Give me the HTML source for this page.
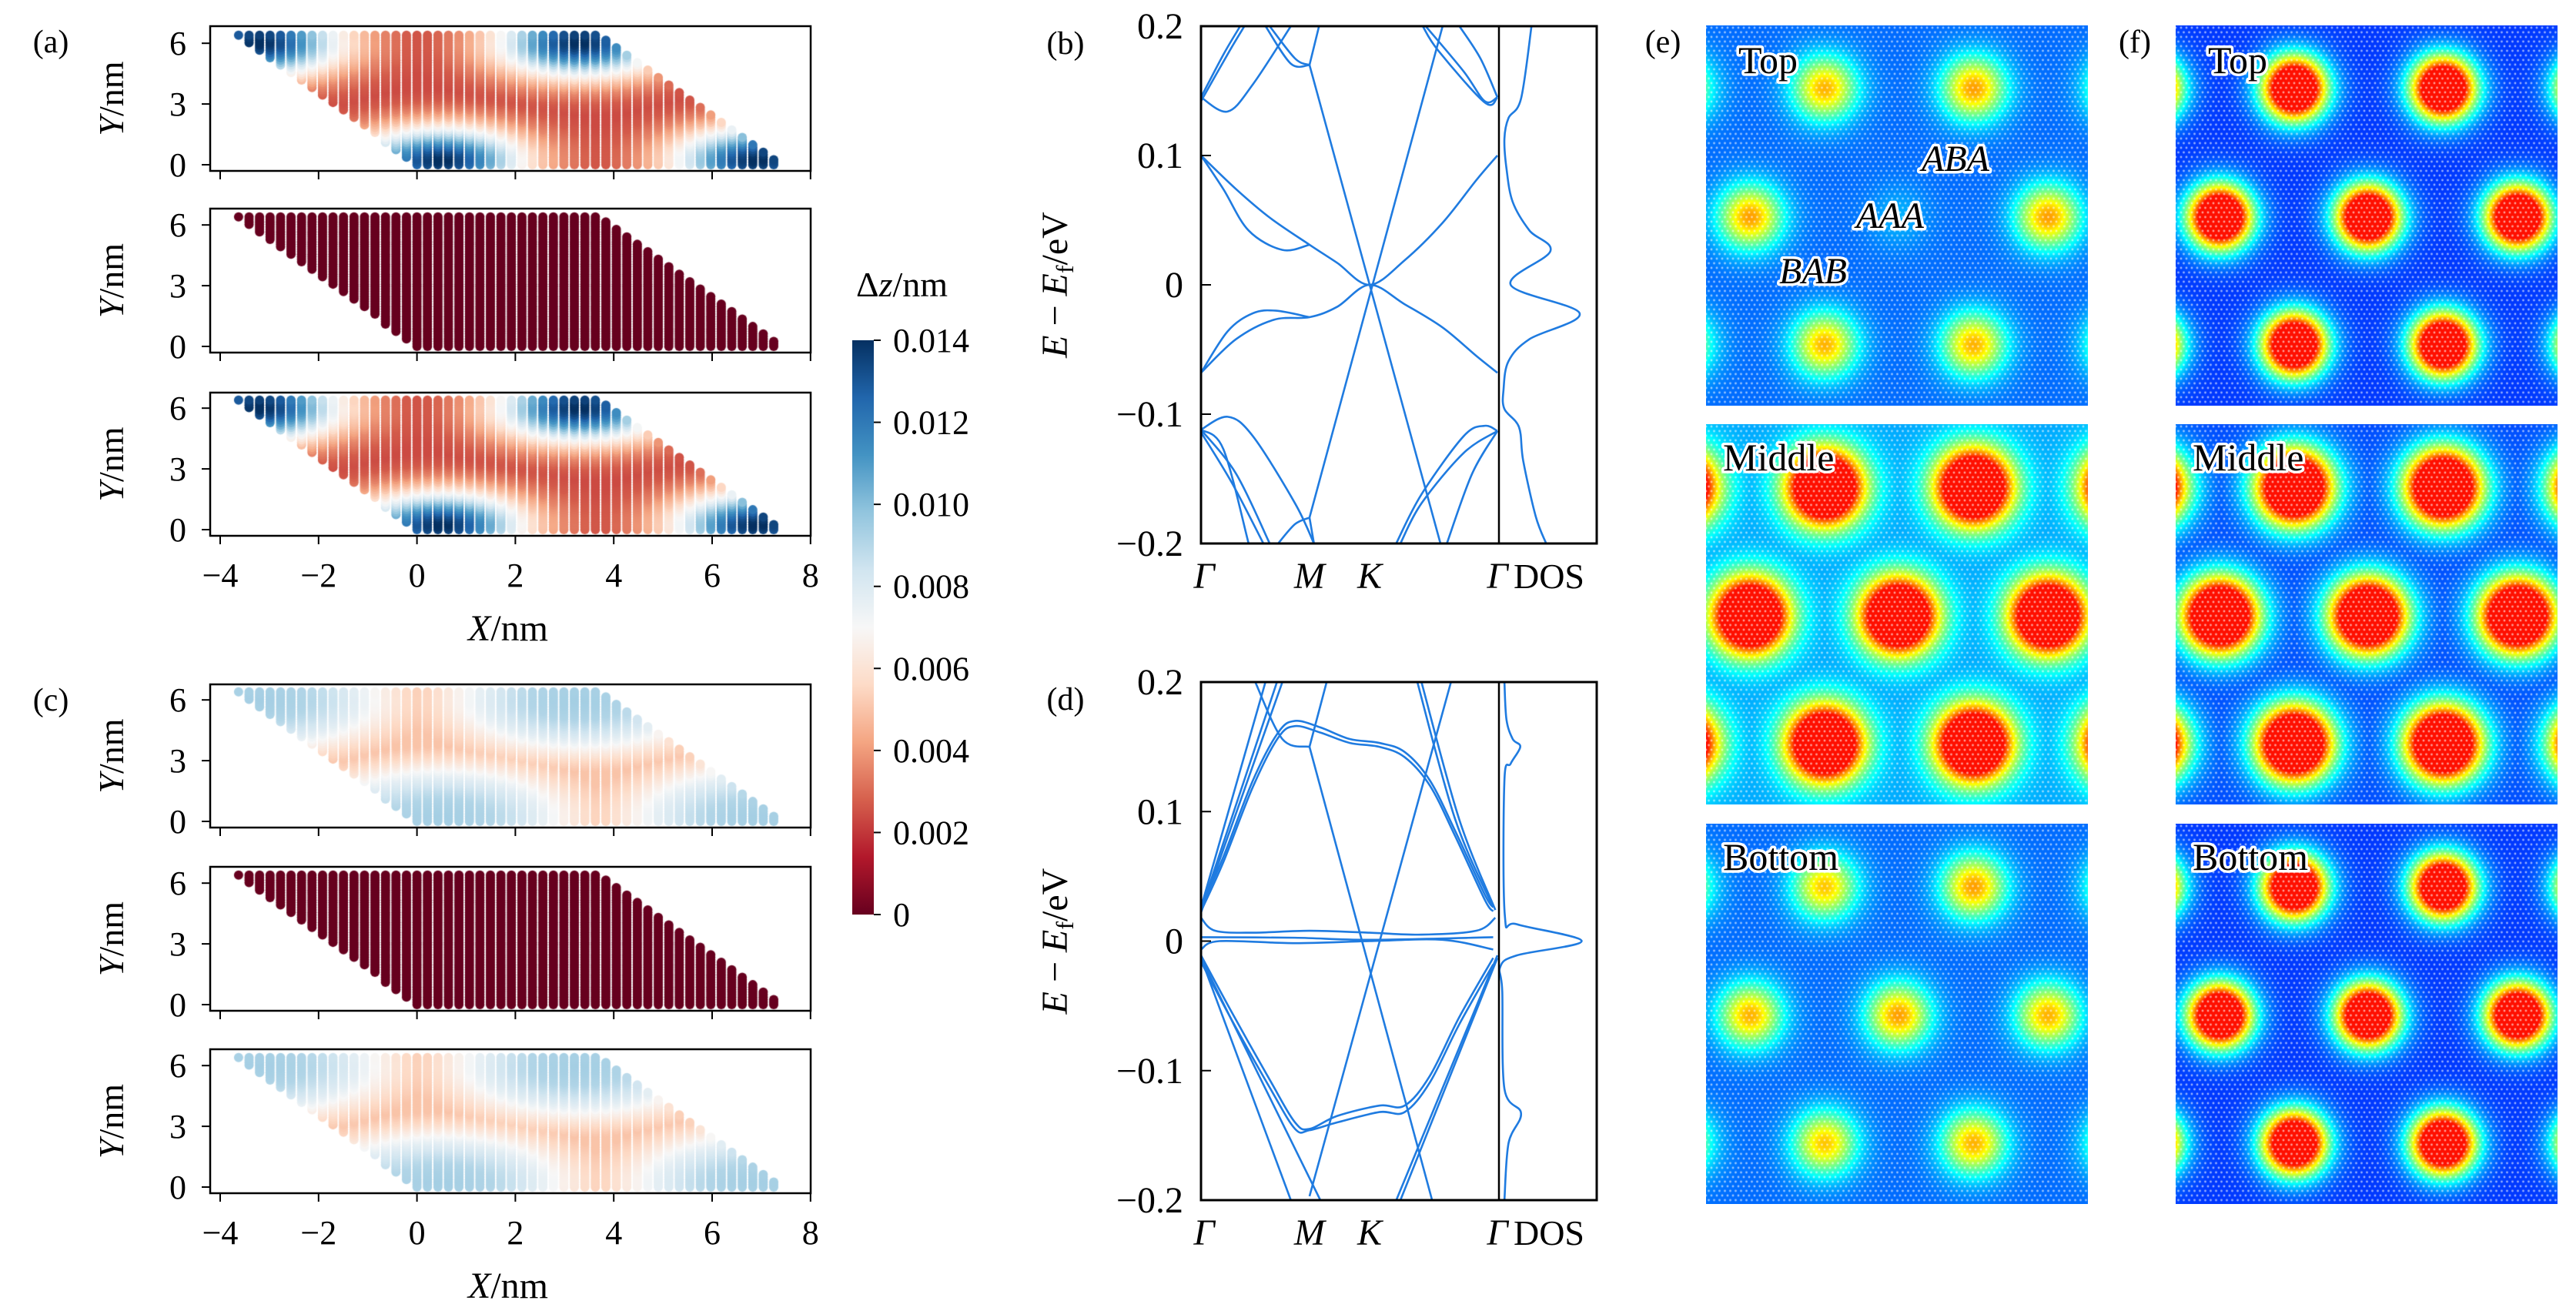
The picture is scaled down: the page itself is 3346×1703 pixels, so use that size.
<!DOCTYPE html>
<html><head><meta charset="utf-8">
<style>
body{margin:0;width:3346px;height:1703px;background:#fff;position:relative;overflow:hidden;font-family:"Liberation Serif",serif}
canvas{position:absolute}
#fig{position:absolute;left:0;top:0}
</style></head>
<body>
<div id="cv"></div>
<svg id="fig" width="3346" height="1703" xmlns="http://www.w3.org/2000/svg"></svg>
<script>
// ---------- DATA ----------
const profileR = [0,0.5,1,1.5,2,2.5,3,3.5,4,5,6];
const dzPanelA = [0.0145,0.013,0.0105,0.0075,0.0052,0.0036,0.0027,0.0024,0.0024,0.0028,0.003];
const dzPanelC = [0.0094,0.0093,0.0091,0.0085,0.0077,0.0066,0.0056,0.0050,0.0050,0.0055,0.006];
const dzPanelFlat = [0,0,0,0,0,0,0,0,0,0,0];
const aaCenterX = [0.5,6.9,-3.2,3.3];
const aaCenterY = [0.3,0.3,6.1,6.1];
const xTicks = [-4,-2,0,2,4,6,8];
const yTicks = [0,3,6];
const cbTicks = [0,0.002,0.004,0.006,0.008,0.010,0.012,0.014];
const cbLabels = ["0","0.002","0.004","0.006","0.008","0.010","0.012","0.014"];
const kTickPos = [0,1.0,1.554,2.732];
const kTickLbl = ["Γ","M","K","Γ"];
const eTicks = [0.2,0.1,0,-0.1,-0.2];
const eTickLbl = ["0.2","0.1","0","−0.1","−0.2"];
const bandsB = [
 [[0,0.1],[0.323,0.074],[0.633,0.052],[1.0,0.031],[1.255,0.017],[1.554,0],[1.877,0.019],[2.227,0.048],[2.538,0.081],[2.732,0.1]],
 [[0,0.1],[0.206,0.074],[0.439,0.042],[0.75,0.027],[1.0,0.031]],
 [[0,-0.068],[0.323,-0.042],[0.672,-0.027],[1.0,-0.025],[1.255,-0.017],[1.554,0],[1.877,-0.015],[2.227,-0.033],[2.538,-0.055],[2.732,-0.068]],
 [[0,-0.068],[0.245,-0.036],[0.478,-0.022],[0.692,-0.020],[1.0,-0.025]],
 [[1.088,0.2],[1.0,0.170]],
 [[1.0,0.170],[2.207,-0.2]],
 [[2.227,0.2],[1.0,-0.18]],
 [[1.0,-0.18],[1.041,-0.2]],
 [[2.044,0.2],[2.188,0.181],[2.615,0.141],[2.732,0.145]],
 [[2.071,0.2],[2.421,0.165],[2.615,0.142],[2.732,0.145]],
 [[2.382,0.2],[2.576,0.175],[2.732,0.145]],
 [[0,0.145],[0.245,0.134],[0.478,0.155],[0.828,0.2]],
 [[0,0.145],[0.206,0.178],[0.361,0.2]],
 [[0,0.142],[0.264,0.181],[0.40,0.2]],
 [[0.633,0.2],[0.867,0.175],[1.0,0.170]],
 [[0.595,0.2],[0.828,0.171],[1.0,0.170]],
 [[0,-0.112],[0.245,-0.102],[0.478,-0.117],[0.867,-0.169],[1.041,-0.2]],
 [[0,-0.112],[0.206,-0.127],[0.439,-0.2]],
 [[0,-0.112],[0.323,-0.146],[0.633,-0.2]],
 [[0,-0.114],[0.284,-0.153],[0.575,-0.2]],
 [[0.711,-0.2],[0.867,-0.185],[1.0,-0.18]],
 [[2.732,-0.113],[2.615,-0.109],[2.421,-0.117],[2.032,-0.162],[1.799,-0.2]],
 [[2.732,-0.113],[2.499,-0.146],[2.266,-0.2]],
 [[2.732,-0.113],[2.421,-0.130],[2.032,-0.169],[1.838,-0.2]]
];
const dosB = [0.333,0.226,0.098,0.056,0.077,0.141,0.312,0.526,0.12,0.825,0.312,0.098,0.047,0.056,0.205,0.248,0.376,0.483];
const dosBE = [0.2,0.144,0.129,0.113,0.090,0.064,0.042,0.026,0,-0.022,-0.042,-0.059,-0.081,-0.096,-0.110,-0.136,-0.179,-0.2];
const bandsD = [
 [[0,0.026],[0.206,0.065],[0.478,0.124],[0.711,0.161],[0.867,0.170],[1.10,0.165],[1.372,0.156],[1.644,0.153],[1.877,0.146],[2.11,0.124],[2.343,0.085],[2.615,0.036],[2.693,0.026]],
 [[0,0.023],[0.206,0.061],[0.478,0.119],[0.711,0.157],[0.867,0.166],[1.10,0.161],[1.372,0.153],[1.644,0.150],[1.877,0.142],[2.11,0.120],[2.343,0.081],[2.615,0.032],[2.693,0.023]],
 [[0,0.026],[0.594,0.2]],
 [[0,0.024],[0.70,0.2]],
 [[0,0.022],[0.75,0.2]],
 [[0.50,0.2],[0.75,0.156],[1.0,0.150]],
 [[1.158,0.2],[1.0,0.150]],
 [[1.0,0.150],[2.13,-0.2]],
 [[2.304,0.2],[1.0,-0.197]],
 [[1.994,0.2],[2.343,0.094],[2.693,0.026]],
 [[2.032,0.2],[2.38,0.094],[2.713,0.024]],
 [[0,-0.011],[0.284,-0.055],[0.633,-0.107],[0.867,-0.140],[1.0,-0.145],[1.255,-0.135],[1.644,-0.127],[1.877,-0.127],[2.11,-0.104],[2.382,-0.0585],[2.693,-0.013]],
 [[0,-0.016],[0.284,-0.061],[0.633,-0.113],[0.867,-0.145],[1.0,-0.146],[1.255,-0.140],[1.644,-0.132],[1.877,-0.132],[2.11,-0.109],[2.382,-0.064],[2.693,-0.018]],
 [[0,-0.013],[0.828,-0.2]],
 [[0,-0.013],[1.10,-0.2]],
 [[2.732,-0.013],[1.838,-0.2]],
 [[2.732,-0.011],[1.80,-0.2]],
 [[0,0.018],[0.13,0.008],[0.478,0.0065],[1.0,0.008],[1.554,0.0065],[2.032,0.005],[2.538,0.008],[2.713,0.018]],
 [[0,-0.0065],[0.17,0],[0.867,-0.0016],[1.554,0],[2.227,0.001],[2.693,-0.0065]],
 [[0,0.003],[0.867,0.0026],[1.554,0.001],[2.693,0.003]]
];
const dosD = [0.056,0.077,0.141,0.218,0.12,0.056,0.06,0.184,0.846,0.184,0.013,0.034,0.056,0.226,0.098,0.056];
const dosDE = [0.2,0.171,0.156,0.150,0.137,0.124,0.020,0.013,0,-0.011,-0.020,-0.039,-0.114,-0.133,-0.156,-0.2];
const blobFx = [-0.075,0.31,0.70,1.085, 0.115,0.503,0.895, -0.075,0.31,0.70,1.085];
const blobFy = [0.165,0.165,0.165,0.165, 0.503,0.503,0.503, 0.839,0.839,0.839,0.839];
const peakETop = [0.68,0.70,0.72,0.68, 0.72,0.30,0.72, 0.68,0.70,0.70,0.68];
const peakEMid = [1.4,1.4,1.4,1.4, 1.4,1.4,1.4, 1.4,1.4,1.4,1.4];
const peakEBot = [0.68,0.68,0.72,0.68, 0.70,0.72,0.70, 0.68,0.68,0.70,0.68];
const peakFTop = [1.3,1.3,1.3,1.3, 1.3,1.3,1.3, 1.3,1.3,1.3,1.3];
const peakFMid = [1.4,1.4,1.4,1.4, 1.4,1.4,1.4, 1.4,1.4,1.4,1.4];
const peakFBot = [1.3,1.3,1.3,1.3, 1.3,1.3,1.3, 1.3,1.3,1.3,1.3];

// ---------- HELPERS ----------
const NS='http://www.w3.org/2000/svg';
const fig=document.getElementById('fig');
const cv=document.getElementById('cv');
function mk(tag,attrs,parent){const e=document.createElementNS(NS,tag);for(const k in attrs)e.setAttribute(k,attrs[k]);(parent||fig).appendChild(e);return e;}
function txt(x,y,html,size,anchor,name,extra){
  const t=mk('text',Object.assign({x:x,y:y,'font-size':size,'text-anchor':anchor||'middle','font-family':'"Liberation Serif", serif',fill:'#000'},extra||{}));
  t.innerHTML=html;
  
  
  return t;
}
const rdbu=['#67001f','#b2182b','#d6604d','#f4a582','#fddbc7','#f7f7f7','#d1e5f0','#92c5de','#4393c3','#2166ac','#053061'];
function hex(h){return [parseInt(h.substr(1,2),16),parseInt(h.substr(3,2),16),parseInt(h.substr(5,2),16)];}
const rdbuRGB=rdbu.map(hex);
function cmap(v){let t=Math.max(0,Math.min(1,v/0.014))*10;const i=Math.min(9,Math.floor(t)),f=t-i;const a=rdbuRGB[i],b=rdbuRGB[i+1];return 'rgb('+[0,1,2].map(j=>Math.round(a[j]+(b[j]-a[j])*f)).join(',')+')';}
function interp(xs,ys,x){if(x<=xs[0])return ys[0];for(let i=1;i<xs.length;i++){if(x<=xs[i]){const f=(x-xs[i-1])/(xs[i]-xs[i-1]);return ys[i-1]+(ys[i]-ys[i-1])*f;}}return ys[ys.length-1];}
function curvePath(p){
  if(p.length<3)return 'M'+p[0][0]+','+p[0][1]+'L'+p[1][0]+','+p[1][1];
  let d='M'+p[0][0]+','+p[0][1];
  for(let i=0;i<p.length-1;i++){const p0=p[i-1]||p[i],p1=p[i],p2=p[i+1],p3=p[i+2]||p2;
    const c1=[p1[0]+(p2[0]-p0[0])/6,p1[1]+(p2[1]-p0[1])/6],c2=[p2[0]-(p3[0]-p1[0])/6,p2[1]-(p3[1]-p1[1])/6];
    d+='C'+c1+' '+c2+' '+p2;}
  return d;
}

// ---------- PANELS (a) & (c) ----------
const px0=273,px1=1053;
const X=v=>286+(v+4)*63.9;
const scatterPanels=[
 {y0:34,y1:222,prof:dzPanelA,name:'panel-a-top',lbl:false},
 {y0:271,y1:458,prof:dzPanelFlat,name:'panel-a-middle',lbl:false},
 {y0:510,y1:696,prof:dzPanelA,name:'panel-a-bottom',lbl:true},
 {y0:889,y1:1075,prof:dzPanelC,name:'panel-c-top',lbl:false},
 {y0:1126,y1:1313,prof:dzPanelFlat,name:'panel-c-middle',lbl:false},
 {y0:1363,y1:1550,prof:dzPanelC,name:'panel-c-bottom',lbl:true}
];
scatterPanels.forEach(P=>{
  const Y=v=>(P.y1-8)-v*26.3;
  const c=document.createElement('canvas');
  c.width=px1-px0;c.height=P.y1-P.y0;c.style.left=px0+'px';c.style.top=P.y0+'px';
  
  
  cv.appendChild(c);
  const g=c.getContext('2d');
  for(let y=0;y<=6.5;y+=0.123){
    const xl=-3.7*(y/6.5),xr=xl+7.4;
    for(let k=-18;k<=36;k++){const x=k*0.2133;if(x<xl-0.01||x>xr+0.01)continue;
      let r=1e9;for(let i=0;i<aaCenterX.length;i++){r=Math.min(r,Math.hypot(x-aaCenterX[i],y-aaCenterY[i]));}
      g.fillStyle=cmap(interp(profileR,P.prof,r));
      g.beginPath();g.arc(X(x)-px0,Y(y)-P.y0,6,0,Math.PI*2);g.fill();}
  }
  const f=mk('rect',{x:px0,y:P.y0,width:px1-px0,height:P.y1-P.y0,fill:'none',stroke:'#000','stroke-width':2.5});
  
  
  xTicks.forEach(t=>{const l=mk('line',{x1:X(t),x2:X(t),y1:P.y1,y2:P.y1+11,stroke:'#000','stroke-width':2});
    
    
    if(P.lbl)txt(X(t),P.y1+66,(t<0?'−':'')+Math.abs(t),44,'middle','x-tick-label');});
  yTicks.forEach(t=>{const l=mk('line',{x1:px0-11,x2:px0,y1:Y(t),y2:Y(t),stroke:'#000','stroke-width':2});
    
    
    txt(242,Y(t)+15,String(t),44,'end','y-tick-label');});
  const cy=(P.y0+P.y1)/2;
  txt(0,0,'<tspan font-style="italic">Y</tspan>/nm',46,'middle','y-axis-title',{transform:`translate(160,${cy}) rotate(-90)`});
  if(P.lbl)txt(660,P.y1+136,'<tspan font-style="italic">X</tspan>/nm',48,'middle','x-axis-title');
});
txt(66,68,'(a)',42,'middle','panel-label-a');
txt(66,923,'(c)',42,'middle','panel-label-c');

const cbX=1107,cbW=28,cbTop=442,cbBot=1188;
const defs=mk('defs',{});
const lg=mk('linearGradient',{id:'cbg',x1:0,y1:0,x2:0,y2:1},defs);
rdbu.slice().reverse().forEach((c,i)=>mk('stop',{offset:(i/10),'stop-color':c},lg));
const cb=mk('rect',{x:cbX,y:cbTop,width:cbW,height:cbBot-cbTop,fill:'url(#cbg)'});


const CBY=v=>cbBot-(v/0.014)*(cbBot-cbTop);
cbTicks.forEach((t,i)=>{const l=mk('line',{x1:cbX+cbW,x2:cbX+cbW+9,y1:CBY(t),y2:CBY(t),stroke:'#000','stroke-width':2});
  
  
  txt(cbX+cbW+25,CBY(t)+15,cbLabels[i],44,'start','colorbar-tick-label');});
txt(1112,385,'Δ<tspan font-style="italic">z</tspan>/nm',46,'start','colorbar-title');

// ---------- PANELS (b) & (d) ----------
const bx0=1560,bx1=2074,bxG=1945,bxD=1947;
const KX=k=>bx0+k/2.732*(bxG-bx0);
function bandPanel(y0,y1,bands,dos,dosE,tag){
  const EY=e=>y0+(0.2-e)/0.4*(y1-y0);
  const cp=mk('clipPath',{id:'clip'+tag},defs);
  mk('rect',{x:bx0,y:y0,width:bx1-bx0,height:y1-y0},cp);
  const g=mk('g',{'clip-path':`url(#clip${tag})`});
  
  
  bands.forEach(b=>{const p=mk('path',{d:curvePath(b.map(q=>[KX(q[0]),EY(q[1])])),fill:'none',stroke:'#1f7be0','stroke-width':2.6},g);
    
    });
  const dp=mk('path',{d:curvePath(dos.map((v,i)=>[bxD+v*(bx1-bxD),EY(dosE[i])])),fill:'none',stroke:'#1f7be0','stroke-width':2.6},g);
  
  
  const fr=mk('rect',{x:bx0,y:y0,width:bx1-bx0,height:y1-y0,fill:'none',stroke:'#000','stroke-width':3});
  
  
  const dv=mk('line',{x1:bxD,x2:bxD,y1:y0,y2:y1,stroke:'#000','stroke-width':2.5});
  
  
  eTicks.forEach((t,i)=>{const l=mk('line',{x1:bx0,x2:bx0+13,y1:EY(t),y2:EY(t),stroke:'#000','stroke-width':2});
    
    
    txt(1537,EY(t)+16,eTickLbl[i],48,'end','energy-tick-label');});
  kTickPos.forEach((k,i)=>txt(KX(k)+(i==0?4:0),y1+58,kTickLbl[i],48,'middle','k-point-label',{'font-style':'italic'}));
  txt(2012,y1+58,'DOS',46,'middle','dos-label');
  txt(0,0,'<tspan font-style="italic">E</tspan> − <tspan font-style="italic">E</tspan><tspan font-size="32" dy="8">f</tspan><tspan dy="-8">/eV</tspan>',48,'middle','energy-axis-title',{transform:`translate(1386,${(y0+y1)/2}) rotate(-90)`});
}
bandPanel(34,706,bandsB,dosB,dosBE,'b');
bandPanel(886,1559,bandsD,dosD,dosDE,'d');
txt(1384,70,'(b)',42,'middle','panel-label-b');
txt(1384,922,'(d)',42,'middle','panel-label-d');

// ---------- PANELS (e) & (f) ----------
function jet(v){const c=x=>Math.max(0,Math.min(1,x));return [c(1.5-Math.abs(4*v-3)),c(1.5-Math.abs(4*v-2)),c(1.5-Math.abs(4*v-1))].map(q=>Math.round(q*255));}
const mapPanels=[
 {x:2216,y:33,peaks:peakETop,bg:0.23,R:42,name:'ldos-e-top',lab:'Top'},
 {x:2216,y:551,peaks:peakEMid,bg:0.29,R:48,name:'ldos-e-middle',lab:'Middle'},
 {x:2216,y:1070,peaks:peakEBot,bg:0.23,R:42,name:'ldos-e-bottom',lab:'Bottom'},
 {x:2826,y:33,peaks:peakFTop,bg:0.18,R:40,name:'ldos-f-top',lab:'Top'},
 {x:2826,y:551,peaks:peakFMid,bg:0.20,R:48,name:'ldos-f-middle',lab:'Middle'},
 {x:2826,y:1070,peaks:peakFBot,bg:0.18,R:40,name:'ldos-f-bottom',lab:'Bottom'}
];
mapPanels.forEach(P=>{
  const w=496,h=494;
  const c=document.createElement('canvas');
  c.width=w;c.height=h;c.style.left=P.x+'px';c.style.top=P.y+'px';
  
  
  cv.appendChild(c);
  const g=c.getContext('2d');const im=g.createImageData(w,h);
  for(let yy=0;yy<h;yy++)for(let xx=0;xx<w;xx++){
    let v=P.bg;
    for(let i=0;i<blobFx.length;i++){const dx=xx-blobFx[i]*w,dy=yy-blobFy[i]*h;const t2=(dx*dx+dy*dy)/(P.R*P.R);
      if(t2>9)continue;v=Math.max(v,P.bg+(P.peaks[i]-P.bg)*Math.exp(-t2));}
    v=Math.min(v,0.86);
    const col=jet(v);const o=(yy*w+xx)*4;im.data[o]=col[0];im.data[o+1]=col[1];im.data[o+2]=col[2];im.data[o+3]=255;}
  g.putImageData(im,0,0);
  g.fillStyle='rgba(255,255,255,0.6)';
  for(let r=0,yy=3;yy<h;yy+=6,r++)for(let xx=(r%2?3.5:0);xx<w;xx+=7){g.beginPath();g.arc(xx,yy,1.4,0,Math.PI*2);g.fill();}
  txt(P.x+(P.lab=='Top'?42:22),P.y+ (P.lab=='Top'?62:60),P.lab,50,'start','map-layer-label',{stroke:'#fff','stroke-width':7,'paint-order':'stroke','stroke-linejoin':'round'});
});
const st={stroke:'#fff','stroke-width':7,'paint-order':'stroke','stroke-linejoin':'round','font-style':'italic'};
txt(2496,222,'ABA',48,'start','stacking-label-aba',st);
txt(2411,296,'AAA',48,'start','stacking-label-aaa',st);
txt(2311,368,'BAB',48,'start','stacking-label-bab',st);
txt(2160,68,'(e)',42,'middle','panel-label-e');
txt(2773,68,'(f)',42,'middle','panel-label-f');
</script>
</body></html>
